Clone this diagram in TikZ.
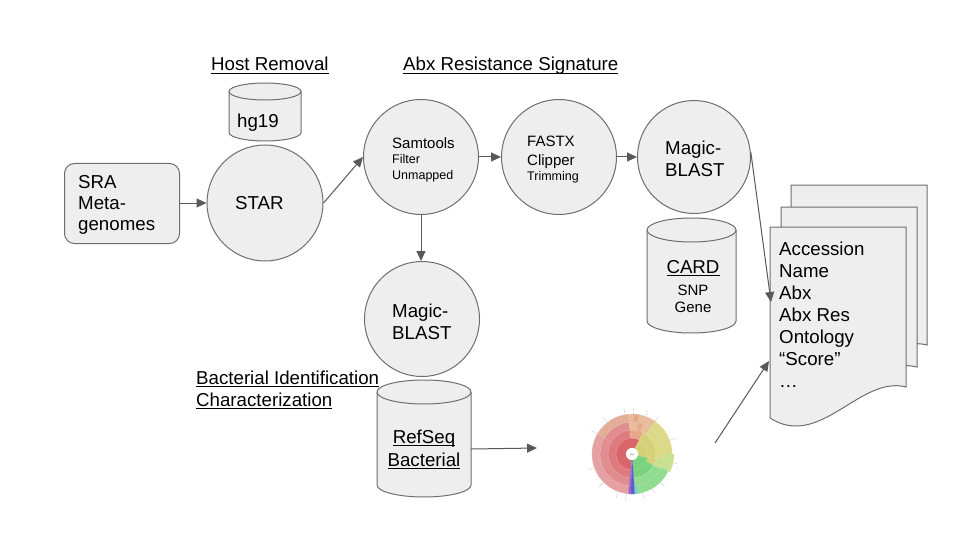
\documentclass[tikz,border=0pt]{standalone}
\usepackage{fontspec}
\setmainfont{Liberation Sans}
\usetikzlibrary{arrows.meta}
\definecolor{fillg}{HTML}{EEEEEE}
\definecolor{lineg}{HTML}{6E6E6E}
\definecolor{arrg}{HTML}{595959}
\definecolor{sbr1}{HTML}{D9666B}
\definecolor{sbr2}{HTML}{DD7B7E}
\definecolor{sbr3}{HTML}{E18D8F}
\definecolor{sbr4}{HTML}{E5A1A1}
\definecolor{sbsal}{HTML}{E3AE98}
\definecolor{sbtan}{HTML}{E9BC9C}
\definecolor{sbtan2}{HTML}{E5A987}
\definecolor{sby1}{HTML}{D6D178}
\definecolor{sby2}{HTML}{DCDA86}
\definecolor{sblime}{HTML}{C8E190}
\definecolor{sbg1}{HTML}{79D37C}
\definecolor{sbg2}{HTML}{92DC92}
\definecolor{sbteal}{HTML}{7CD3B4}
\definecolor{sbblue}{HTML}{5B5BD6}
\definecolor{sbpur}{HTML}{9A60D0}
\newsavebox\ulbox
\newcommand\ulx[1]{\sbox\ulbox{#1}\rlap{\rule[-3pt]{\wd\ulbox}{1.2pt}}\usebox\ulbox}
\newcommand\dbcyl[5]{%
  \fill[fillg] (#1-#4,#2) rectangle (#1+#4,#3);
  \fill[fillg] (#1,#3) ellipse [x radius=#4, y radius=#5];
  \draw[lineg, line width=1pt] (#1-#4,#2) -- (#1-#4,#3) arc[start angle=180, end angle=0, x radius=#4, y radius=#5] -- (#1+#4,#2);
  \filldraw[fill=fillg, draw=lineg, line width=1pt] (#1,#2) ellipse [x radius=#4, y radius=#5];
}
\newcommand\sbw[5]{\filldraw[fill=#1, draw=#1!80!white, line width=0.25pt] (#4:#3) arc[start angle=#4, end angle=#5, radius=#3] -- (#5:#2) arc[start angle=#5, end angle=#4, radius=#2] -- cycle;}
\newcommand\docpath{(0,0) -- (136,0) -- (136,160) .. controls (90,148) and (50,223) .. (0,191) -- cycle}
\tikzset{
  shapeln/.style={draw=lineg, line width=1pt, fill=fillg},
  circ/.style={shapeln, circle, minimum size=115pt, inner sep=0pt},
  conn/.style={draw=arrg, line width=1pt, -{Triangle[length=10pt,width=9pt]}},
  txt/.style={font=\fontsize{18.7}{22}\selectfont, inner sep=0pt, anchor=base west, text=black},
  txtm/.style={font=\fontsize{15}{17}\selectfont, inner sep=0pt, anchor=base west, text=black},
  txts/.style={font=\fontsize{12.5}{15}\selectfont, inner sep=0pt, anchor=base west, text=black},
  txtc/.style={txt, anchor=base},
  txtmc/.style={txtm, anchor=base},
}
\begin{document}
\begin{tikzpicture}[x=1pt,y=-1pt]
\useasboundingbox (0,0) rectangle (960,540);
\fill[white] (0,0) rectangle (960,540);

% labels
\node[txt] (lhost) at (211,71) {\ulx{Host Removal}};
\node[txt] (labx) at (403,71) {\ulx{Abx Resistance Signature}};
\node[txt] (lbac1) at (196,384) {\ulx{Bacterial Identification}};
\node[txt] (lbac2) at (196,406) {\ulx{Characterization}};

% SRA box
\node[shapeln, rounded corners=10pt, minimum width=115pt, minimum height=80pt, inner sep=0pt, anchor=north west] (sra) at (64,163) {};
\node[txt] (sra1) at (78,188) {SRA};
\node[txt] (sra2) at (78,209) {Meta-};
\node[txt] (sra3) at (78,230) {genomes};

% hg19
\dbcyl{265}{91.5}{132.5}{36}{8.5}
\node[txt] (hg) at (237,128) {hg19};

% CARD
\dbcyl{691.5}{230}{321}{44.5}{12}
\node[txtc] (card) at (693,273) {\ulx{CARD}};
\node[txtmc] (snp) at (693,295) {SNP};
\node[txtmc] (gene) at (693,312) {Gene};

% RefSeq
\dbcyl{424}{392}{485}{47}{12}
\node[txtc] (refseq) at (424,443) {\ulx{RefSeq}};
\node[txtc] (bact) at (424,466) {\ulx{Bacterial}};
\coordinate (refE) at (471,449);

% circles
\node[circ, minimum size=116pt] (star) at (265,203) {};
\node[txt] (start) at (235,209) {STAR};
\node[circ] (sam) at (421,157) {};
\node[txtm] (sam1) at (392,149) {Samtools};
\node[txts] (sam2) at (392,164) {Filter};
\node[txts] (sam3) at (392,179) {Unmapped};
\node[circ] (fastx) at (559,157) {};
\node[txtm] (fx1) at (527,147) {FASTX};
\node[txtm] (fx2) at (527,166) {Clipper};
\node[txts] (fx3) at (527,180) {Trimming};
\node[circ, minimum size=113pt] (mb1) at (694,157) {};
\node[txt] (mb1a) at (665,155) {Magic-};
\node[txt] (mb1b) at (665,177) {BLAST};
\node[circ] (mb2) at (422,319) {};
\node[txt] (mb2a) at (392,317) {Magic-};
\node[txt] (mb2b) at (392,339) {BLAST};

% documents
\filldraw[shapeln, shift={(791,185)}] \docpath;
\filldraw[shapeln, shift={(781,207)}] \docpath;
\filldraw[shapeln, shift={(770,227)}] \docpath;
\node[txt] (d1) at (779,255) {Accession};
\node[txt] (d2) at (779,277) {Name};
\node[txt] (d3) at (779,299) {Abx};
\node[txt] (d4) at (779,321) {Abx Res};
\node[txt] (d5) at (779,343) {Ontology};
\node[txt] (d6) at (779,365) {“Score”};
\node[txt] (d7) at (779,387) {…};
\coordinate (docA) at (769,361);
\coordinate (docB) at (771,302);

% sunburst
\node[circle, minimum size=80pt, inner sep=0pt] (sun) at (632,454) {};
\coordinate (sunW) at (537,448);
\coordinate (sunE) at (715,443);
\begin{scope}[shift={(632,454)}, yscale=-1]
  \foreach \a in {100,128,150,200,225,250,262}{\draw[gray!40, line width=0.4pt] (\a:40) -- (\a:47);}
  \foreach \a in {55,70,88,20,-12,-45,-60,-75}{\draw[gray!40, line width=0.4pt] (\a:40) -- (\a:46);}
  % red region
  \sbw{sbr1}{6}{16}{62}{268}
  \sbw{sbr2}{16}{24}{95}{268}
  \sbw{sbr3}{24}{32}{150}{268}
  \sbw{sbr4}{32}{40}{150}{268}
  \sbw{sbr3}{24}{32}{95}{150}
  \sbw{sbsal}{32}{40}{95}{150}
  % top tan
  \sbw{sbtan2}{16}{24}{62}{95}
  \sbw{sbtan}{24}{32}{62}{95}
  \sbw{sbtan}{32}{40}{62}{95}
  \sbw{sbtan2}{32}{40}{80}{88}
  \sbw{sbtan2}{24}{32}{70}{78}
  % yellow
  \sbw{sby1}{6}{16}{-15}{62}
  \sbw{sby1}{16}{24}{-12}{62}
  \sbw{sby2}{24}{32}{-8}{55}
  \sbw{sby2}{32}{40}{0}{55}
  \sbw{sbtan}{24}{32}{55}{62}
  \sbw{sbtan}{32}{40}{55}{62}
  % lime
  \sbw{sblime}{24}{32}{-28}{-8}
  \sbw{sblime}{32}{42}{-25}{0}
  \sbw{sby1}{16}{24}{-28}{-12}
  % green
  \sbw{sbg1}{6}{16}{-86}{-15}
  \sbw{sbg1}{16}{24}{-86}{-28}
  \sbw{sbg2}{24}{32}{-86}{-28}
  \sbw{sbg2}{32}{40}{-80}{-25}
  \sbw{sbteal}{32}{40}{-86}{-80}
  % blue / purple
  \sbw{sbblue}{6}{40}{-92}{-86}
  \sbw{sbpur}{6}{40}{-95}{-92}
  \fill[white] (0,0) circle (6);
  \draw[gray!60, line width=0.3pt] (-2,0) -- (2,0);
\end{scope}

% connectors
\draw[conn] (sra.east |- star) -- (star.west);
\draw[conn] (star.east) -- (sam.west);
\draw[conn] (sam.east) -- (fastx.west);
\draw[conn] (fastx.east) -- (mb1.west);
\draw[conn] (sam.south) -- (sam.south |- mb2.north);
\draw[conn] (refE) -- (sunW);
\draw[conn] (sunE) -- (docA);
\draw[conn] (mb1.5) -- (docB);
\end{tikzpicture}
\end{document}
